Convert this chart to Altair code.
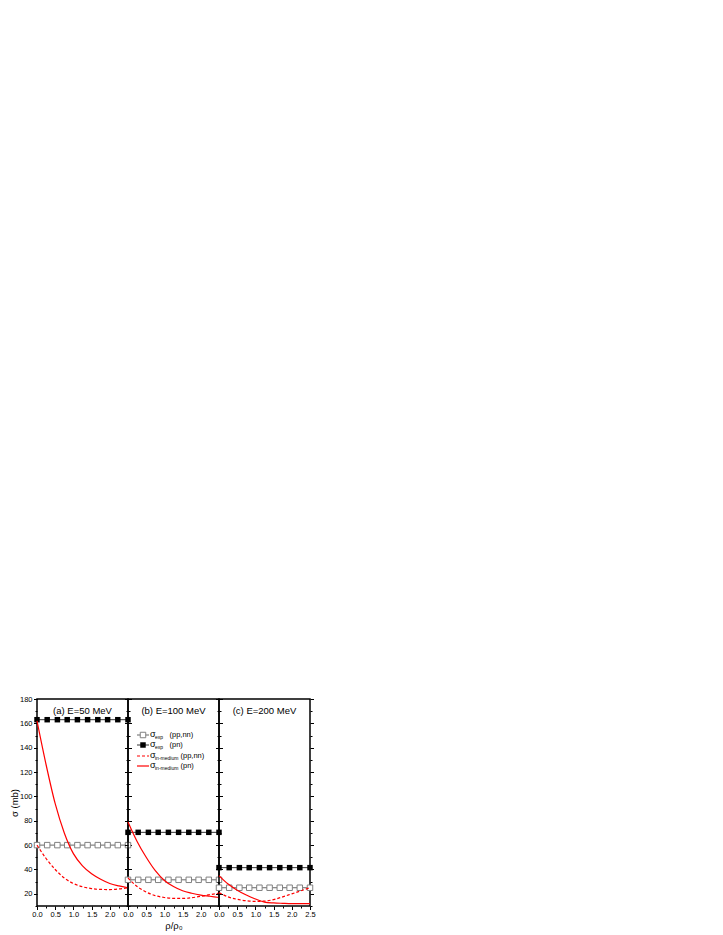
import altair as alt
import pandas as pd

# ---------------- data ----------------
x_curve = [0.0, 0.25, 0.5, 0.75, 1.0, 1.25, 1.5, 1.75, 2.0, 2.25, 2.5]
x_markers = [0.0, 0.28, 0.56, 0.83, 1.11, 1.39, 1.67, 1.94, 2.22, 2.5]

panel_titles = ["(a) E=50 MeV", "(b) E=100 MeV", "(c) E=200 MeV"]
free_ppnn = [60, 31.5, 25]       # sigma_exp (pp,nn)
free_pn = [163, 70.5, 41.5]      # sigma_exp (pn)

med_ppnn = [
    [60, 49, 40, 33, 28.5, 25.8, 24.3, 23.6, 23.5, 24, 25],
    [33, 26, 21.5, 18.5, 17, 16.3, 16.2, 16.8, 18, 19.3, 20.5],
    [21, 17.5, 15.5, 14.3, 13.8, 14, 15.3, 17.5, 20, 22.5, 25],
]
med_pn = [
    [162, 126, 94, 70, 53, 43, 36.5, 32, 28.5, 26.5, 25],
    [79, 63, 50, 39, 31, 26, 22.5, 20.5, 19, 18, 17],
    [35, 28, 23, 19, 15.8, 13.2, 12.5, 12.2, 12, 12, 12],
]

y_ticks = [10, 20, 30, 40, 50, 60, 70, 80, 90, 100, 110, 120, 130, 140, 150, 160, 170, 180]
x_ticks_ab = [0.0, 0.25, 0.5, 0.75, 1.0, 1.25, 1.5, 1.75, 2.0, 2.25]
x_ticks_c = [0.0, 0.25, 0.5, 0.75, 1.0, 1.25, 1.5, 1.75, 2.0, 2.25, 2.5]

legend_labels = ["(pp,nn)", "(pn)", "(pp,nn)", "(pn)"]
legend_subs = ["exp", "exp", "in-medium", "in-medium"]

W, H = 91, 207
FONT = "Liberation Sans"

xscale = alt.Scale(domain=[0, 2.5], nice=False, zero=False)
yscale = alt.Scale(domain=[10, 180], nice=False, zero=False)
one = pd.DataFrame({"d": [0]})


def x_axis(values, title):
    return alt.Axis(values=values, format=".1f", title=title,
                    labelExpr="datum.value % 0.5 == 0 ? datum.label : ''",
                    tickSize={"condition": {"test": "datum.value % 0.5 == 0", "value": 3.5}, "value": 2},
                    labelPadding=1, titlePadding=2, labelFlush=False, labelOverlap=False)


def y_axis(labels, orient):
    return alt.Axis(values=y_ticks, orient=orient, labels=labels, title="σ (mb)" if labels else "",
                    labelExpr="datum.value % 20 == 0 ? datum.label : ''",
                    tickSize={"condition": {"test": "datum.value % 20 == 0", "value": 3.5}, "value": 2},
                    labelPadding=1.5, titlePadding=0, labelOverlap=False)


def legend_layers():
    layers = []
    rows_y = [36, 46, 57, 67]
    for k in range(4):
        yy = rows_y[k]
        if k == 0:
            layers.append(alt.Chart(one).mark_rule(color="#404040", strokeWidth=0.8).encode(
                x=alt.value(9), x2=alt.value(21), y=alt.value(yy)))
            layers.append(alt.Chart(one).mark_point(shape="square", filled=True, fill="white",
                                                    stroke="#808080", strokeWidth=1, size=30, opacity=1).encode(
                x=alt.value(15), y=alt.value(yy)))
        elif k == 1:
            layers.append(alt.Chart(one).mark_rule(color="black", strokeWidth=0.8).encode(
                x=alt.value(9), x2=alt.value(21), y=alt.value(yy)))
            layers.append(alt.Chart(one).mark_point(shape="square", filled=True, color="black",
                                                    size=30, opacity=1).encode(
                x=alt.value(15), y=alt.value(yy)))
        elif k == 2:
            layers.append(alt.Chart(one).mark_rule(color="red", strokeWidth=1.2, strokeDash=[3, 2]).encode(
                x=alt.value(9), x2=alt.value(21), y=alt.value(yy)))
        else:
            layers.append(alt.Chart(one).mark_rule(color="red", strokeWidth=1.2).encode(
                x=alt.value(9), x2=alt.value(21), y=alt.value(yy)))
        layers.append(alt.Chart(one).mark_text(text="σ", fontSize=9, align="left", baseline="middle",
                                               font=FONT, color="black").encode(
            x=alt.value(22), y=alt.value(yy - 1)))
        layers.append(alt.Chart(one).mark_text(text=legend_subs[k], fontSize=5, align="left",
                                               baseline="middle", font=FONT, color="black").encode(
            x=alt.value(27), y=alt.value(yy + 2)))
        lab_x = 41.5 if k < 2 else 52.5
        layers.append(alt.Chart(one).mark_text(text=legend_labels[k], fontSize=7.5, align="left",
                                               baseline="middle", font=FONT, color="black").encode(
            x=alt.value(lab_x), y=alt.value(yy)))
    return layers


def make_panel(i):
    df_curves = pd.DataFrame({
        "x": x_curve * 2,
        "value": med_ppnn[i] + med_pn[i],
        "series": ["ppnn"] * len(x_curve) + ["pn"] * len(x_curve),
    })
    df_pp = pd.DataFrame({"x": x_markers, "value": [free_ppnn[i]] * len(x_markers)})
    df_pn = pd.DataFrame({"x": x_markers, "value": [free_pn[i]] * len(x_markers)})

    xvals = x_ticks_c if i == 2 else x_ticks_ab
    xtitle = "ρ/ρ₀" if i == 1 else ""
    X = alt.X("x:Q", scale=xscale, axis=x_axis(xvals, xtitle))
    Y = alt.Y("value:Q", scale=yscale, axis=y_axis(i == 0, "left"))

    pp_line = alt.Chart(df_pp).mark_line(color="#404040", strokeWidth=0.8).encode(x=X, y=Y)
    pp_pts = alt.Chart(df_pp).mark_point(shape="square", filled=True, fill="white", stroke="#808080",
                                         strokeWidth=1, size=30, opacity=1).encode(x=X, y=Y)
    pn_line = alt.Chart(df_pn).mark_line(color="black", strokeWidth=0.8).encode(x=X, y=Y)
    pn_pts = alt.Chart(df_pn).mark_point(shape="square", filled=True, color="black",
                                         size=30, opacity=1).encode(x=X, y=Y)
    dashed = alt.Chart(df_curves).transform_filter(alt.datum.series == "ppnn").mark_line(
        color="red", strokeWidth=1.2, strokeDash=[3, 2], interpolate="monotone").encode(x=X, y=Y)
    solid = alt.Chart(df_curves).transform_filter(alt.datum.series == "pn").mark_line(
        color="red", strokeWidth=1.2, interpolate="monotone").encode(x=X, y=Y)
    title = alt.Chart(one).mark_text(text=panel_titles[i], fontSize=9.5, font=FONT, color="black",
                                     align="center", baseline="middle").encode(
        x=alt.value(W / 2), y=alt.value(12))

    layers = [pp_line, pp_pts, pn_line, pn_pts, dashed, solid, title]
    if i == 1:
        layers += legend_layers()
    inner = alt.layer(*layers)

    right = alt.Chart(df_pp).mark_line(opacity=0).encode(
        x=X, y=alt.Y("value:Q", scale=yscale, axis=y_axis(False, "right")))
    return alt.layer(inner, right).resolve_axis(y="independent").properties(width=W, height=H)


chart = alt.hconcat(make_panel(0), make_panel(1), make_panel(2), spacing=0, bounds="flush").properties(
    padding={"left": 0, "top": 686, "right": 5, "bottom": 0}
).configure_view(stroke="black", strokeWidth=1.5).configure_axis(
    domain=False, grid=False, labelFont=FONT, labelFontSize=7.5, labelColor="black",
    tickColor="black", tickWidth=1, titleFont=FONT, titleFontSize=9.5, titleFontWeight="normal",
    titleColor="black"
)

chart.save("out.html", embed_options={"renderer": "svg", "actions": False})
